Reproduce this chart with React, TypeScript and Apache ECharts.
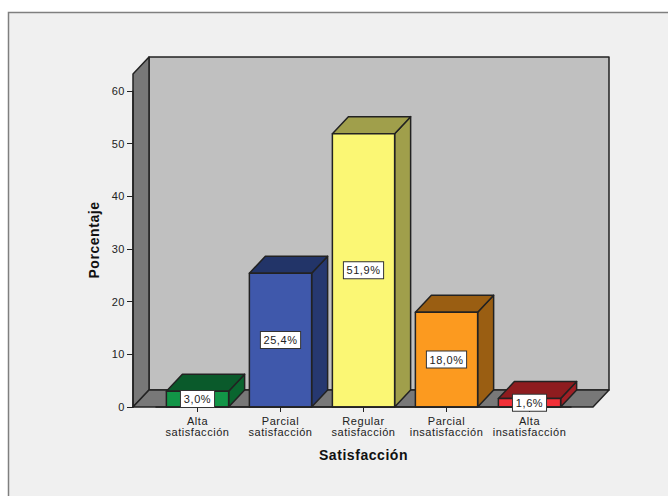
import React, { useEffect, useRef } from "react";
import * as echarts from "echarts";

const categories = ["Alta\nsatisfacción", "Parcial\nsatisfacción", "Regular\nsatisfacción", "Parcial\ninsatisfacción", "Alta\ninsatisfacción"];
const values = [3.0, 25.4, 51.9, 18.0, 1.6];
const valueLabels = ["3,0%", "25,4%", "51,9%", "18,0%", "1,6%"];
const frontColors = ["#129547", "#3F58AB", "#FBF774", "#FC9A1F", "#F23038"];
const sideColors = ["#0A652F", "#263870", "#A09F4B", "#9A5E12", "#A01F25"];
const topColors = ["#0A5A2B", "#223468", "#A09F4B", "#9A5E12", "#8E1C1F"];

const DX = 16;
const DY = 17;
const EDGE = "#222222";
const FONT = "Liberation Sans";

export default function App() {
  const ref = useRef<HTMLDivElement>(null);
  useEffect(() => {
    const chart = echarts.init(ref.current!, null, { renderer: "svg" });
    chart.setOption({
      animation: false,
      backgroundColor: "#ffffff",
      graphic: [
        {
          type: "rect",
          z: -1,
          shape: { x: 8.5, y: 12.5, width: 700, height: 520 },
          style: { fill: "#F0F0F0", stroke: "#7F7F7F", lineWidth: 1.5 },
        },
      ],
      grid: { left: 156, right: 97, top: 91, bottom: 89 },
      xAxis: {
        type: "category",
        data: categories,
        z: 5,
        axisLine: { lineStyle: { color: EDGE, width: 1.5 } },
        axisTick: { show: true, alignWithLabel: true, length: 5, lineStyle: { color: EDGE, width: 1 } },
        axisLabel: { interval: 0, color: "#222", fontFamily: FONT, fontSize: 11, lineHeight: 11, margin: 8 },
        name: "Satisfacción",
        nameLocation: "middle",
        nameGap: 41,
        nameTextStyle: { color: "#111", fontFamily: FONT, fontWeight: "bold", fontSize: 14 },
      },
      yAxis: {
        type: "value",
        min: 0,
        max: 60,
        interval: 10,
        offset: 23,
        z: 5,
        axisLine: { show: true, lineStyle: { color: EDGE, width: 1.5 } },
        axisTick: { show: true, length: 6, lineStyle: { color: EDGE, width: 1 } },
        axisLabel: { color: "#222", fontFamily: FONT, fontSize: 11, margin: 8 },
        splitLine: { show: false },
        name: "Porcentaje",
        nameLocation: "middle",
        nameGap: 32,
        nameTextStyle: { color: "#111", fontFamily: FONT, fontWeight: "bold", fontSize: 14, padding: [0, 0, 0, 18] },
      },
      series: [
        {
          type: "custom",
          z: 1,
          silent: true,
          data: [[0, 0]],
          renderItem: (_p: any, api: any) => {
            const o = api.coord([0, 0]);
            const band = api.size([1, 0])[0];
            const top = api.coord([0, 60])[1] - DY;
            const base = o[1];
            const l = o[0] - band / 2 - 23;
            const r = api.coord([4, 0])[0] + band / 2 + 22;
            const style = (fill: string) => ({ fill, stroke: EDGE, lineWidth: 1.5, lineJoin: "round" });
            return {
              type: "group",
              children: [
                { type: "polygon", shape: { points: [[l + DX, top - DY], [r + DX, top - DY], [r + DX, base - DY], [l + DX, base - DY]] }, style: style("#C0C0C0") },
                { type: "polygon", shape: { points: [[l, base], [l, top], [l + DX, top - DY], [l + DX, base - DY]] }, style: style("#787878") },
                { type: "polygon", shape: { points: [[l, base], [r, base], [r + DX, base - DY], [l + DX, base - DY]] }, style: style("#787878") },
              ],
            };
          },
        },
        {
          type: "custom",
          z: 3,
          data: values.map((v, i) => [i, v]),
          encode: { x: 0, y: 1 },
          renderItem: (p: any, api: any) => {
            const i = api.value(0);
            const t = api.coord([i, api.value(1)]);
            const b = api.coord([i, 0]);
            const w = api.size([1, 0])[0] * 0.75;
            const x0 = t[0] - w / 2;
            const x1 = t[0] + w / 2;
            const style = (fill: string) => ({ fill, stroke: EDGE, lineWidth: 1.5, lineJoin: "round" });
            return {
              type: "group",
              children: [
                { type: "polygon", shape: { points: [[x1, t[1]], [x1 + DX, t[1] - DY], [x1 + DX, b[1] - DY], [x1, b[1]]] }, style: style(sideColors[p.dataIndex]) },
                { type: "polygon", shape: { points: [[x0, t[1]], [x0 + DX, t[1] - DY], [x1 + DX, t[1] - DY], [x1, t[1]]] }, style: style(topColors[p.dataIndex]) },
                { type: "rect", shape: { x: x0, y: t[1], width: w, height: b[1] - t[1] }, style: style(frontColors[p.dataIndex]) },
              ],
            };
          },
        },
        {
          type: "custom",
          z: 10,
          data: values.map((v, i) => [i, v]),
          encode: { x: 0, y: 1 },
          renderItem: (p: any, api: any) => {
            const i = api.value(0);
            const mid = api.coord([i, api.value(1) / 2]);
            return {
              type: "text",
              x: mid[0],
              y: mid[1],
              style: {
                text: valueLabels[p.dataIndex],
                align: "center",
                verticalAlign: "middle",
                fill: "#222",
                font: `11px "${FONT}"`,
                backgroundColor: "#fff",
                borderColor: "#333",
                borderWidth: 1,
                padding: [3, 4, 2, 4],
              },
            };
          },
        },
      ],
    });
    return () => chart.dispose();
  }, []);
  return <div ref={ref} style={{ position: "absolute", left: 0, top: 0, width: 668, height: 496, letterSpacing: "0.55px" }} />;
}
